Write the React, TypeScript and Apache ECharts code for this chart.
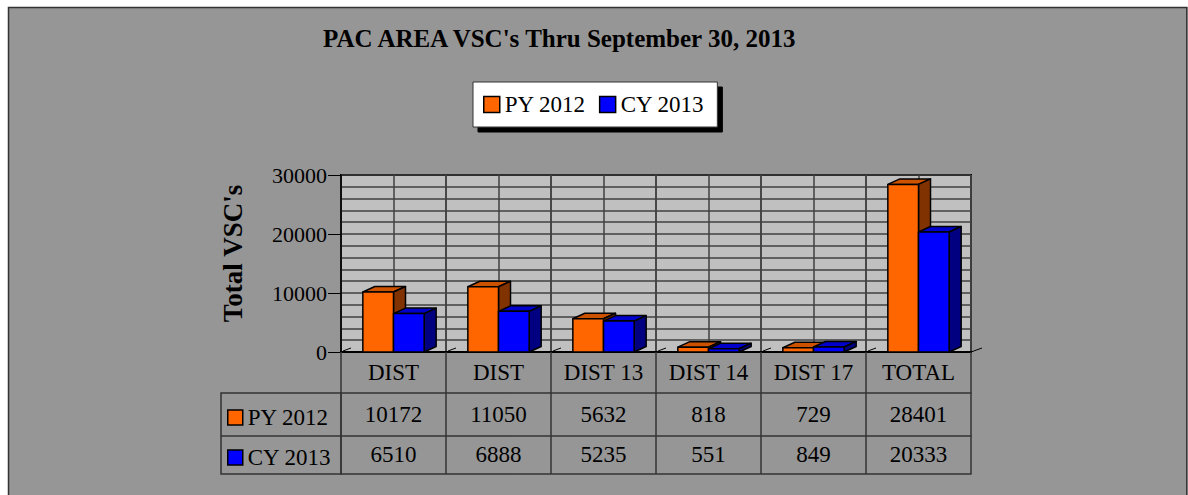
import React, { useEffect, useRef } from "react";
import * as echarts from "echarts";

const categories = ["DIST", "DIST", "DIST 13", "DIST 14", "DIST 17", "TOTAL"];
const py2012 = [10172, 11050, 5632, 818, 729, 28401];
const cy2013 = [6510, 6888, 5235, 551, 849, 20333];
const seriesNames = ["PY 2012", "CY 2013"];
const yTicks = [0, 10000, 20000, 30000];
const titleText = "PAC AREA VSC's Thru September 30, 2013";
const yAxisTitle = "Total VSC's";

const FONT = '"Liberation Serif", "Times New Roman", Times, serif';
const DX = 12;
const DY = -5.5;

const faces = [
  { front: "#FF6600", top: "#CC5200", side: "#803300" },
  { front: "#0000FF", top: "#0000CC", side: "#000080" },
];

function makeRender(which: number) {
  return (params: any, api: any) => {
    const idx = api.value(0);
    const val = api.value(1);
    const p = api.coord([idx, val]);
    const p0 = api.coord([idx, 0]);
    const bw = api.size([1, 0])[0];
    const w = bw * 0.292;
    const x0 = which === 0 ? p[0] - w : p[0];
    const x1 = x0 + w;
    const y = p[1];
    const y0 = p0[1];
    const f = faces[which];
    const stroke = { stroke: "#000", lineWidth: 1.5, lineJoin: "round" };
    const children: any[] = [];
    if (which === 0) {
      const xb = p[0] - bw / 2;
      children.push({
        type: "line",
        shape: { x1: xb + 2, y1: y0 - 1, x2: xb + 10, y2: y0 - 4 },
        style: { stroke: "#000", lineWidth: 1 },
      });
      if (params.dataIndex === params.dataInsideLength - 1) {
        const xr = p[0] + bw / 2;
        children.push({
          type: "line",
          shape: { x1: xr, y1: y0, x2: xr + 11, y2: y0 - 4 },
          style: { stroke: "#000", lineWidth: 1 },
        });
      }
    }
    children.push({
      type: "polygon",
      shape: { points: [[x0, y], [x1, y], [x1 + DX, y + DY], [x0 + DX, y + DY]] },
      style: { fill: f.top, ...stroke },
    });
    children.push({
      type: "polygon",
      shape: { points: [[x1, y], [x1 + DX, y + DY], [x1 + DX, y0 + DY], [x1, y0]] },
      style: { fill: f.side, ...stroke },
    });
    children.push({
      type: "rect",
      shape: { x: x0, y: y, width: w, height: y0 - y },
      style: { fill: f.front, ...stroke },
    });
    return { type: "group", children };
  };
}

const gridLine = { color: "#404040", width: 1.5 };
const tableLine = { color: "#333333", width: 1.5 };
const labelText = { fontFamily: FONT, fontSize: 23, color: "#000" };

export default function App() {
  const ref = useRef<HTMLDivElement>(null);
  useEffect(() => {
    if (!ref.current) return;
    const chart = echarts.init(ref.current, undefined, { renderer: "svg" });
    const option: any = {
      animation: false,
      backgroundColor: "#969696",
      color: [faces[0].front, faces[1].front],
      textStyle: { fontFamily: FONT },
      graphic: [
        { type: "rect", silent: true, shape: { x: 0, y: 0, width: 1188, height: 7 }, style: { fill: "#fff" } },
        { type: "rect", silent: true, shape: { x: 0, y: 0, width: 8, height: 495 }, style: { fill: "#fff" } },
        { type: "rect", silent: true, shape: { x: 1187.5, y: 0, width: 1, height: 495 }, style: { fill: "#fff" } },
        {
          type: "polyline",
          silent: true,
          shape: { points: [[8.5, 500], [8.5, 7.5], [1186.8, 7.5], [1186.8, 500]] },
          style: { fill: "none", stroke: "#333", lineWidth: 1.5 },
        },
        {
          type: "rect",
          silent: true,
          shape: { x: 221, y: 393, width: 120, height: 81 },
          style: { fill: "none", stroke: "#333", lineWidth: 1.5 },
        },
        {
          type: "line",
          silent: true,
          shape: { x1: 221, y1: 436, x2: 341, y2: 436 },
          style: { stroke: "#333", lineWidth: 1.5 },
        },
      ],
      title: {
        text: titleText,
        left: 323,
        top: 26,
        padding: 0,
        textStyle: { fontFamily: FONT, fontSize: 25, fontWeight: "bold", color: "#000" },
      },
      legend: [
        {
          data: seriesNames.map((n) => ({ name: n, icon: "rect" })),
          left: 473,
          top: 82,
          orient: "horizontal",
          padding: [11, 13, 11, 10],
          itemWidth: 16,
          itemHeight: 16,
          itemGap: 13,
          backgroundColor: "#fff",
          borderColor: "#333",
          borderWidth: 1,
          shadowColor: "#000",
          shadowOffsetX: 5,
          shadowOffsetY: 5,
          shadowBlur: 0,
          selectedMode: false,
          itemStyle: { borderColor: "#000", borderWidth: 1.5 },
          textStyle: { fontFamily: FONT, fontSize: 23, color: "#000" },
        },
        {
          data: seriesNames.map((n) => ({ name: n, icon: "rect" })),
          left: 227,
          top: 406,
          orient: "vertical",
          padding: 0,
          itemWidth: 15,
          itemHeight: 15,
          itemGap: 17,
          selectedMode: false,
          itemStyle: { borderColor: "#000", borderWidth: 1.5 },
          textStyle: { fontFamily: FONT, fontSize: 23, color: "#000" },
        },
      ],
      grid: {
        left: 341,
        top: 175,
        width: 630,
        height: 177,
        show: true,
        backgroundColor: "#c0c0c0",
        borderColor: "#000",
        borderWidth: 2,
      },
      xAxis: [
        {
          type: "category",
          data: categories,
          position: "bottom",
          axisLine: { show: true, lineStyle: { color: "#000", width: 2 } },
          axisTick: { show: true, length: 41, interval: 0, lineStyle: tableLine },
          axisLabel: { interval: 0, margin: 9, ...labelText },
          splitLine: { show: true, interval: 0, lineStyle: gridLine },
        },
        {
          type: "category",
          data: py2012.map(String),
          position: "bottom",
          offset: 41,
          axisLine: { show: true, lineStyle: tableLine },
          axisTick: { show: true, length: 43, interval: 0, lineStyle: tableLine },
          axisLabel: { interval: 0, margin: 10, ...labelText },
          splitLine: { show: false },
        },
        {
          type: "category",
          data: cy2013.map(String),
          position: "bottom",
          offset: 84,
          axisLine: { show: true, lineStyle: tableLine },
          axisTick: { show: true, length: 38, interval: 0, lineStyle: tableLine },
          axisLabel: { interval: 0, margin: 7, ...labelText },
          splitLine: { show: false },
        },
        {
          type: "category",
          data: categories.map((_, i) => String(i)),
          position: "bottom",
          offset: 122,
          axisLine: { show: true, lineStyle: tableLine },
          axisTick: { show: false },
          axisLabel: { show: false },
          splitLine: { show: false },
        },
        {
          type: "value",
          min: 0,
          max: categories.length,
          interval: 0.5,
          position: "top",
          axisLine: { show: false },
          axisTick: { show: false },
          axisLabel: { show: false },
          splitLine: { show: true, lineStyle: gridLine },
        },
      ],
      yAxis: {
        type: "value",
        min: yTicks[0],
        max: yTicks[yTicks.length - 1],
        interval: yTicks[1] - yTicks[0],
        axisLine: { show: true, lineStyle: { color: "#000", width: 1.5 } },
        axisTick: { show: true, length: 13, lineStyle: { color: "#000", width: 1 } },
        axisLabel: {
          margin: 14,
          fontFamily: FONT,
          fontSize: 22,
          color: "#000",
          formatter: (v: number) => String(v),
        },
        splitLine: { show: true, lineStyle: gridLine },
        minorTick: { show: false, splitNumber: 5 },
        minorSplitLine: { show: true, lineStyle: gridLine },
        name: yAxisTitle,
        nameLocation: "middle",
        nameGap: 95,
        nameRotate: 90,
        nameTextStyle: {
          fontFamily: FONT,
          fontSize: 27,
          fontWeight: "bold",
          color: "#000",
          padding: [0, 0, 0, 20],
        },
      },
      series: [py2012, cy2013].map((vals, s) => ({
        type: "custom",
        name: seriesNames[s],
        xAxisIndex: 0,
        yAxisIndex: 0,
        data: vals.map((v, i) => [i, v]),
        encode: { x: 0, y: 1 },
        itemStyle: { color: faces[s].front },
        renderItem: makeRender(s),
        clip: false,
        z: 3 + s,
      })),
    };
    chart.setOption(option);
    return () => chart.dispose();
  }, []);
  return (
    <div
      ref={ref}
      style={{ position: "absolute", left: 0, top: 0, width: 1188, height: 495 }}
    />
  );
}
